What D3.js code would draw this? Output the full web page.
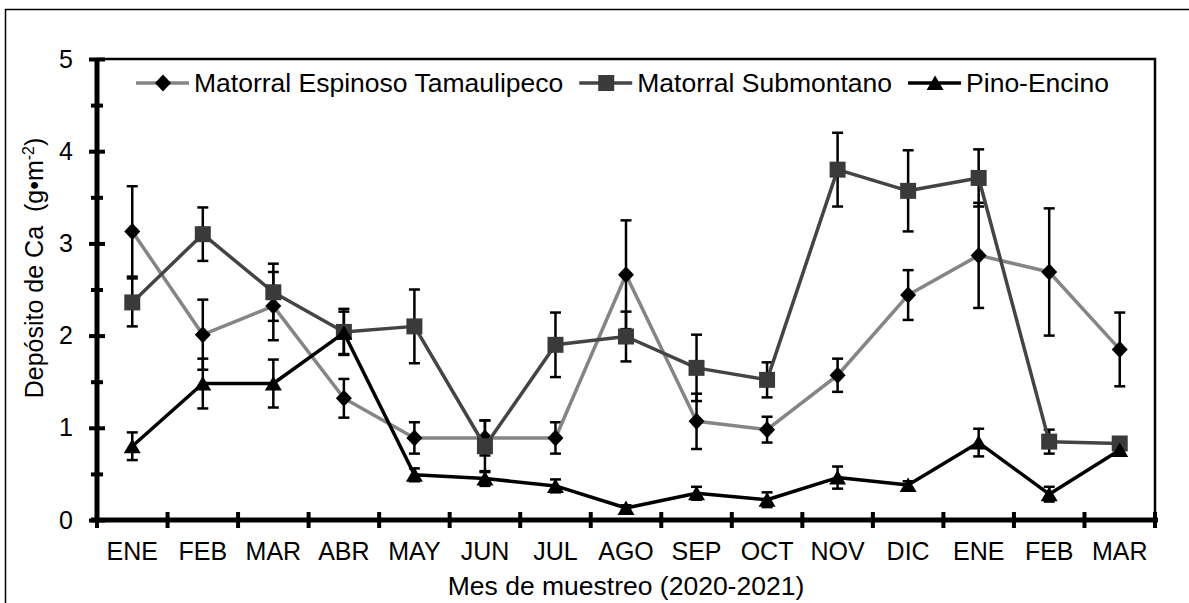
<!DOCTYPE html>
<html>
<head>
<meta charset="utf-8">
<script src="https://cdn.jsdelivr.net/npm/d3@7"></script>
<style>
  body { margin: 0; background: #fff; }
  svg { font-family: Arial, "Liberation Sans", sans-serif; }
</style>
</head>
<body>
<svg id="chart" width="1189" height="603"></svg>
<script>
// month labels (Jan 2020 - Mar 2021)
const months = ["ENE", "FEB", "MAR", "ABR", "MAY", "JUN", "JUL", "AGO", "SEP", "OCT", "NOV", "DIC", "ENE", "FEB", "MAR"];

const espinoso = [3.13, 2.01, 2.32, 1.32, 0.89, 0.89, 0.89, 2.66, 1.07, 0.98, 1.57, 2.44, 2.87, 2.69, 1.85];
const espinosoErr = [0.49, 0.38, 0.37, 0.21, 0.17, 0.19, 0.17, 0.59, 0.30, 0.14, 0.18, 0.27, 0.57, 0.69, 0.40];

const submontano = [2.36, 3.10, 2.47, 2.04, 2.10, 0.80, 1.90, 1.99, 1.65, 1.52, 3.80, 3.57, 3.71, 0.85, 0.83];
const submontanoErr = [0.26, 0.29, 0.31, 0.25, 0.40, 0.28, 0.35, 0.27, 0.36, 0.19, 0.40, 0.44, 0.31, 0.13, 0.05];

const pino = [0.80, 1.48, 1.48, 2.03, 0.49, 0.45, 0.37, 0.13, 0.29, 0.22, 0.46, 0.38, 0.84, 0.28, 0.76];
const pinoErr = [0.15, 0.27, 0.26, 0.23, 0.07, 0.08, 0.07, 0.03, 0.07, 0.08, 0.12, 0.04, 0.15, 0.08, 0.04];

const yTicks = [0, 1, 2, 3, 4, 5];
const yMinor = [0.5, 1.5, 2.5, 3.5, 4.5];

const series = [
    { name: "Matorral Espinoso Tamaulipeco", values: espinoso, err: espinosoErr, line: "#858585", fill: "#000", shape: "diamond" },
    { name: "Matorral Submontano", values: submontano, err: submontanoErr, line: "#444", fill: "#3a3a3a", shape: "square" },
    { name: "Pino-Encino", values: pino, err: pinoErr, line: "#000", fill: "#000", shape: "triangle" }
];

const margin = { top: 59, right: 34, bottom: 83, left: 97 };
const width = 1189 - margin.left - margin.right;
const height = 603 - margin.top - margin.bottom;

const svg = d3.select("#chart");

// outer frame
svg.append("rect")
    .attr("x", 5.5).attr("y", 9.5)
    .attr("width", 1300).attr("height", 800)
    .attr("fill", "none")
    .attr("stroke", "#000")
    .attr("stroke-width", 1.5);

const g = svg.append("g")
    .attr("transform", `translate(${margin.left},${margin.top})`);

const x = d3.scaleBand()
    .domain(d3.range(months.length))
    .range([0, width])
    .padding(0);

const y = d3.scaleLinear()
    .domain([0, 5])
    .range([height, 0]);

// plot frame (top and right)
g.append("path")
    .attr("d", `M0,0H${width}V${height}`)
    .attr("fill", "none")
    .attr("stroke", "#000")
    .attr("stroke-width", 2.5);

function symbolPath(shape) {
    if (shape === "diamond") return "M0,-8.5L8,0L0,8.5L-8,0Z";
    if (shape === "square") return "M-8,-8H8V8H-8Z";
    return "M0,-7.5L8.5,7L-8.5,7Z";
}

const cx = i => x(i) + x.bandwidth() / 2;

// error bars
series.forEach(s => {
    const eb = g.append("g").attr("stroke", "#000").attr("stroke-width", 2.5);
    s.values.forEach((v, i) => {
        const hi = y(v + s.err[i]), lo = y(v - s.err[i]);
        eb.append("line").attr("x1", cx(i)).attr("x2", cx(i)).attr("y1", hi).attr("y2", lo);
        eb.append("line").attr("x1", cx(i) - 5.5).attr("x2", cx(i) + 5.5).attr("y1", hi).attr("y2", hi);
        eb.append("line").attr("x1", cx(i) - 5.5).attr("x2", cx(i) + 5.5).attr("y1", lo).attr("y2", lo);
    });
});

const line = d3.line()
    .x((d, i) => cx(i))
    .y(d => y(d));

series.forEach(s => {
    g.append("path")
        .datum(s.values)
        .attr("d", line)
        .attr("fill", "none")
        .attr("stroke", s.line)
        .attr("stroke-width", 3.5)
        .attr("stroke-linejoin", "round");

    g.selectAll(null)
        .data(s.values)
        .enter()
        .append("path")
        .attr("d", symbolPath(s.shape))
        .attr("transform", (d, i) => `translate(${cx(i)},${y(d)})`)
        .attr("fill", s.fill);
});

// y axis
const yAxis = g.append("g")
    .call(d3.axisLeft(y).tickValues(yTicks).tickSize(8).tickPadding(16).tickFormat(d3.format("d")));
yAxis.select(".domain").attr("stroke-width", 5).attr("d", `M0,${height + 2}V0`);
yAxis.selectAll(".tick line").attr("x1", -8).attr("x2", 8).attr("stroke-width", 4);
yAxis.selectAll(".tick text").style("font-size", "25px").attr("fill", "#000").attr("font-family", null);

const yMinorAxis = g.append("g")
    .call(d3.axisLeft(y).tickValues(yMinor).tickSize(6).tickFormat(""));
yMinorAxis.select(".domain").remove();
yMinorAxis.selectAll(".tick line").attr("x1", -6).attr("x2", 6).attr("stroke-width", 4);

// x axis labels
const xAxis = g.append("g")
    .attr("transform", `translate(0,${height})`)
    .call(d3.axisBottom(x).tickSize(0).tickPadding(22).tickFormat(i => months[i]));
xAxis.select(".domain").attr("stroke-width", 5).attr("d", `M-6,0H${width + 3}`);
xAxis.selectAll(".tick text").style("font-size", "25px").attr("fill", "#000").attr("font-family", null);

// x boundary ticks
g.append("g")
    .selectAll("line")
    .data(d3.range(months.length + 1))
    .enter()
    .append("line")
    .attr("x1", d => d < months.length ? x(d) : width)
    .attr("x2", d => d < months.length ? x(d) : width)
    .attr("y1", height - 8)
    .attr("y2", height + 8)
    .attr("stroke", "#000")
    .attr("stroke-width", 4);

// axis titles
svg.append("text")
    .attr("x", 626)
    .attr("y", 595)
    .attr("text-anchor", "middle")
    .style("font-size", "26.5px")
    .text("Mes de muestreo (2020-2021)");

const yTitle = svg.append("text")
    .attr("transform", "translate(43,268) rotate(-90)")
    .attr("text-anchor", "middle")
    .style("font-size", "25px");
yTitle.append("tspan").text("Depósito de Ca\u00a0\u00a0(g•m");
yTitle.append("tspan").attr("dy", -9).style("font-size", "16px").text("-2");
yTitle.append("tspan").attr("dy", 9).text(")");

// legend
const legend = svg.append("g").attr("transform", "translate(136,83)");
let lx = 0;
series.forEach(s => {
    const item = legend.append("g").attr("transform", `translate(${lx},0)`);
    item.append("line")
        .attr("x1", 0).attr("x2", 53)
        .attr("y1", 0).attr("y2", 0)
        .attr("stroke", s.line)
        .attr("stroke-width", 3.5);
    item.append("path")
        .attr("d", symbolPath(s.shape))
        .attr("transform", "translate(27,0)")
        .attr("fill", s.fill);
    const t = item.append("text")
        .attr("x", 58)
        .attr("dy", "0.35em")
        .style("font-size", "26.5px")
        .text(s.name);
    lx += 58 + t.node().getComputedTextLength() + 16;
});
</script>
</body>
</html>
